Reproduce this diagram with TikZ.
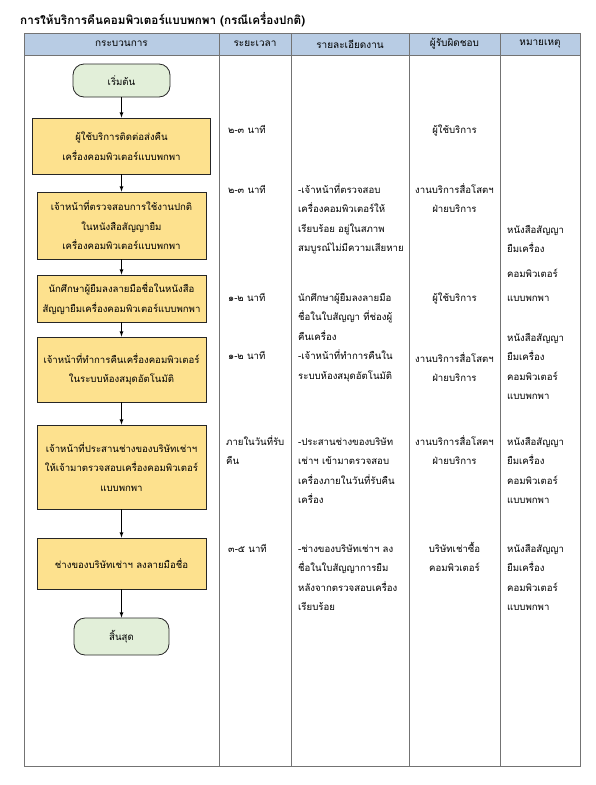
\documentclass[tikz,border=0pt]{standalone}
\usepackage{fontspec}
\newfontfamily\thaifont[Script=Thai]{Loma}
\usetikzlibrary{arrows,calc}
\definecolor{HeadClr}{RGB}{184,204,228}
\definecolor{StepClr}{RGB}{253,225,142}
\definecolor{TermClr}{RGB}{226,239,217}
\definecolor{GridClr}{RGB}{115,115,115}

\begin{document}
\begin{tikzpicture}[x=1pt,y=-1pt,
  every node/.style={font=\thaifont\fontsize{9.6}{19.5}\selectfont,inner sep=0pt},
  stepbox/.style={draw=black!85,fill=StepClr,line width=.8pt,align=center,minimum width=169pt},
  termbox/.style={draw=black!85,fill=TermClr,line width=.8pt,rounded corners=11pt,minimum width=97pt},
  headtxt/.style={anchor=center,font=\thaifont\fontsize{10}{12}\selectfont},
  lefttxt/.style={anchor=base west,align=left},
  midtxt/.style={anchor=base,align=center},
  flow/.style={->,>=latex,line width=.8pt,black}]
\useasboundingbox (0,0) rectangle (595,785);

% table
\fill[HeadClr] (24,33) rectangle (580,55);
\draw[GridClr,line width=.9pt] (24,33) rectangle (580,766);
\draw[GridClr,line width=.9pt] (24,55) -- (580,55);
\foreach \cx in {219,291,409,500}
  \draw[GridClr,line width=.9pt] (\cx,33) -- (\cx,766);

\node[anchor=base west,font=\thaifont\bfseries\fontsize{11.7}{14}\selectfont] (title) at (20,24) {การให้บริการคืนคอมพิวเตอร์แบบพกพา (กรณีเครื่องปกติ)};
\node[headtxt] (h1) at (121.5,44) {กระบวนการ};
\node[headtxt] (h2) at (255,44) {ระยะเวลา};
\node[headtxt] (h3) at (350,44) {รายละเอียดงาน};
\node[headtxt] (h4) at (454.5,44) {ผู้รับผิดชอบ};
\node[headtxt] (h5) at (540,44) {หมายเหตุ};

% flow
\node[termbox,minimum height=33pt] (start) at (121.5,80.5) {เริ่มต้น};
\node[stepbox,minimum width=178pt,minimum height=56pt] (s1) at (121.5,146) {ผู้ใช้บริการติดต่อส่งคืน\\เครื่องคอมพิวเตอร์แบบพกพา};
\node[stepbox,minimum height=67pt] (s2) at (121.5,225.5) {เจ้าหน้าที่ตรวจสอบการใช้งานปกติ\\ในหนังสือสัญญายืม\\เครื่องคอมพิวเตอร์แบบพกพา};
\node[stepbox,minimum height=47pt] (s3) at (121.5,298.5) {นักศึกษาผู้ยืมลงลายมือชื่อในหนังสือ\\สัญญายืมเครื่องคอมพิวเตอร์แบบพกพา};
\node[stepbox,minimum height=65pt] (s4) at (121.5,369.5) {เจ้าหน้าที่ทำการคืนเครื่องคอมพิวเตอร์\\ในระบบห้องสมุดอัตโนมัติ};
\node[stepbox,minimum height=84pt] (s5) at (121.5,467) {เจ้าหน้าที่ประสานช่างของบริษัทเช่าฯ\\ให้เจ้ามาตรวจสอบเครื่องคอมพิวเตอร์\\แบบพกพา};
\node[stepbox,minimum height=51pt] (s6) at (121.5,563.5) {ช่างของบริษัทเช่าฯ ลงลายมือชื่อ};
\node[termbox,minimum width=95pt,minimum height=37pt] (end) at (121.5,636.5) {สิ้นสุด};

\draw[flow] (start) -- (s1);
\draw[flow] (s1) -- (s2);
\draw[flow] (s2) -- (s3);
\draw[flow] (s3) -- (s4);
\draw[flow] (s4) -- (s5);
\draw[flow] (s5) -- (s6);
\draw[flow] (s6) -- (end);

% time (base = last line)
\node[lefttxt] (t1) at (228,133) {๒-๓ นาที};
\node[lefttxt] (t2) at (228,193) {๒-๓ นาที};
\node[lefttxt] (t3) at (228,301) {๑-๒ นาที};
\node[lefttxt] (t4) at (228,359) {๑-๒ นาที};
\node[lefttxt] (t5) at (226,464.5) {ภายในวันที่รับ\\คืน};
\node[lefttxt] (t6) at (228,552) {๓-๕ นาที};

% details
\node[lefttxt] (d2) at (298,251.5) {-เจ้าหน้าที่ตรวจสอบ\\เครื่องคอมพิวเตอร์ให้\\เรียบร้อย อยู่ในสภาพ\\สมบูรณ์ไม่มีความเสียหาย};
\node[lefttxt] (d3) at (298,379) {นักศึกษาผู้ยืมลงลายมือ\\ชื่อในใบสัญญา ที่ช่องผู้\\คืนเครื่อง\\-เจ้าหน้าที่ทำการคืนใน\\ระบบห้องสมุดอัตโนมัติ};
\node[lefttxt] (d5) at (298,503.5) {-ประสานช่างของบริษัท\\เช่าฯ เข้ามาตรวจสอบ\\เครื่องภายในวันที่รับคืน\\เครื่อง};
\node[lefttxt] (d6) at (298,610.5) {-ช่างของบริษัทเช่าฯ ลง\\ชื่อในใบสัญญาการยืม\\หลังจากตรวจสอบเครื่อง\\เรียบร้อย};

% responsible
\node[midtxt] (r1) at (454.5,133) {ผู้ใช้บริการ};
\node[midtxt] (r2) at (454.5,212.5) {งานบริการสื่อโสตฯ\\ฝ่ายบริการ};
\node[midtxt] (r3) at (454.5,301) {ผู้ใช้บริการ};
\node[midtxt] (r4) at (454.5,381.5) {งานบริการสื่อโสตฯ\\ฝ่ายบริการ};
\node[midtxt] (r5) at (454.5,464.5) {งานบริการสื่อโสตฯ\\ฝ่ายบริการ};
\node[midtxt] (r6) at (454.5,571.5) {บริษัทเช่าซื้อ\\คอมพิวเตอร์};

% remarks
\node[lefttxt] (m2) at (507,301) {หนังสือสัญญา\\ยืมเครื่อง\\[5pt]คอมพิวเตอร์\\[4.5pt]แบบพกพา};
\node[lefttxt] (m4) at (507,399.5) {หนังสือสัญญา\\ยืมเครื่อง\\คอมพิวเตอร์\\แบบพกพา};
\node[lefttxt] (m5) at (507,503.5) {หนังสือสัญญา\\ยืมเครื่อง\\คอมพิวเตอร์\\แบบพกพา};
\node[lefttxt] (m6) at (507,610.5) {หนังสือสัญญา\\ยืมเครื่อง\\คอมพิวเตอร์\\แบบพกพา};

\end{tikzpicture}
\end{document}
